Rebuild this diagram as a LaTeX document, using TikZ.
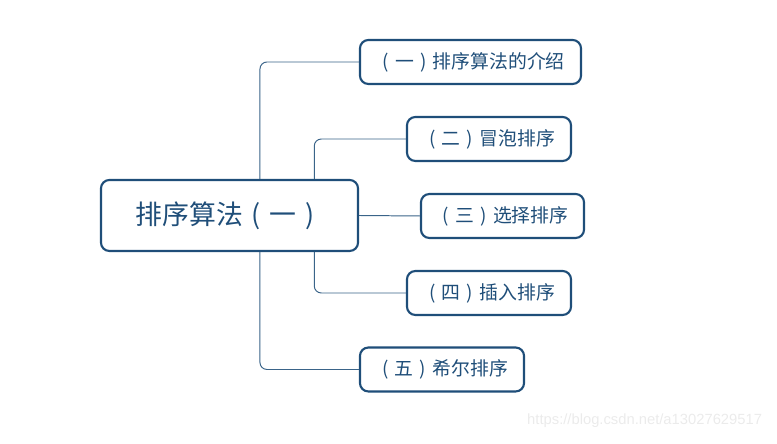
\documentclass[tikz,border=0pt]{standalone}
\usepackage{fontspec}
\setmainfont{Noto Sans CJK SC}
\newfontfamily\markfont{Liberation Sans}
\definecolor{topicblue}{HTML}{1F4E79}
\definecolor{linkblue}{HTML}{3A6489}
% full-width cells with centred brackets
\newcommand\topl{\makebox[1em]{(}}
\newcommand\topr{\makebox[1em]{)}}
\tikzset{
  topic/.style={draw=topicblue, line width=1.5pt, rounded corners=6pt, fill=white,
    text=topicblue, inner sep=0pt},
  maintopic/.style={topic, minimum width=6.425cm, minimum height=1.775cm,
    font=\fontsize{19.1pt}{21pt}\selectfont},
  subtopic/.style={topic, minimum height=1.1cm, font=\fontsize{13.4pt}{15pt}\selectfont},
  link/.style={draw=linkblue, line width=0.7pt, rounded corners=5pt}
}
\begin{document}
\begin{tikzpicture}[x=0.025cm,y=-0.025cm]

\useasboundingbox (0,0) rectangle (777,444);

\node[maintopic] (main) at (229.5,215.5) {排序算法\topl 一\topr};

\node[subtopic, minimum width=5.525cm] (intro) at (470.5,62) {\topl 一\topr 排序算法的介绍};
\node[subtopic, minimum width=4.1cm] (bubble) at (489,139) {\topl 二\topr 冒泡排序};
\node[subtopic, minimum width=4.075cm] (select) at (502.5,216) {\topl 三\topr 选择排序};
\node[subtopic, minimum width=4.1cm] (insert) at (489,293) {\topl 四\topr 插入排序};
\node[subtopic, minimum width=4.1cm] (shell) at (442,369.5) {\topl 五\topr 希尔排序};

% connectors
\draw[link] ([xshift=4cm]main.north west) |- (intro.west);
\draw[link] ([xshift=-1.12cm]main.north east) |- (bubble.west);
\draw[link] (main.east) -- (select.west);
\draw[link] ([xshift=-1.12cm]main.south east) |- (insert.west);
\draw[link] ([xshift=4cm]main.south west) |- (shell.west);

\node[text=black!8, font=\markfont\fontsize{10.5pt}{12pt}\selectfont, anchor=east]
  (mark) at (767,421) {https://blog.csdn.net/a13027629517};

\end{tikzpicture}
\end{document}
